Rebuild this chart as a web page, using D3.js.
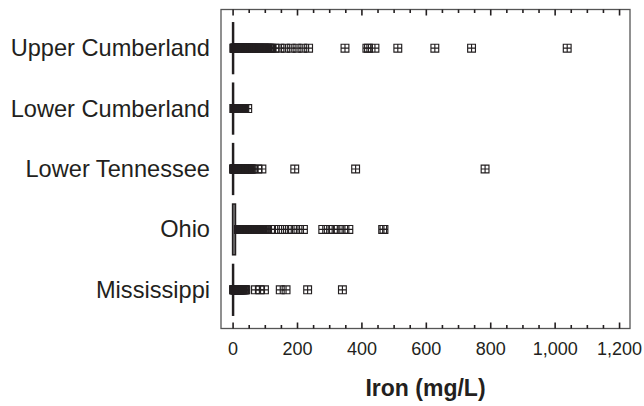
<!DOCTYPE html>
<html>
<head>
<meta charset="utf-8">
<script src="https://cdn.jsdelivr.net/npm/d3@7"></script>
<style>
  html, body { margin: 0; padding: 0; background: #fff; }
  svg { display: block; font-family: "Liberation Sans", Arial, Helvetica, sans-serif; }
</style>
</head>
<body>
<svg id="chart" width="644" height="406"></svg>
<script>
// Iron concentration (mg/L) by basin
const basins = ["Upper Cumberland", "Lower Cumberland", "Lower Tennessee", "Ohio", "Mississippi"];

// Box statistics per basin
const q1Values = [0, 0, 0, 0, 0];
const medianValues = [1, 1, 1, 2, 1];
const q3Values = [3, 3, 3, 9, 3];
const whiskerLow = [0, 0, 0, 0, 0];
const whiskerHigh = [6, 6, 6, 20, 6];

// Outlying observations per basin
const upperCumberlandOutliers = [4, 5, 6, 7, 8, 9, 10, 11, 12, 13, 14, 15, 16, 17, 18, 19, 20, 21, 22, 24, 25, 26, 28, 30, 32, 33, 35, 37, 38, 40, 41, 43, 44, 46, 47, 49, 50, 52, 54, 56, 58, 60, 62, 64, 66, 68, 70, 72, 75, 77, 80, 82, 85, 87, 90, 93, 96, 99, 102, 105, 108, 111, 115, 118, 121, 131, 147, 164, 182, 200, 218, 236, 349, 417, 422, 442, 513, 628, 742, 1039];
const lowerCumberlandOutliers = [4, 5, 6, 7, 8, 9, 10, 11, 12, 13, 14, 15, 16, 17, 18, 19, 20, 21, 22, 23, 25, 27, 28, 30, 31, 33, 34, 36, 38, 47];
const lowerTennesseeOutliers = [3, 4, 5, 6, 7, 8, 9, 10, 11, 12, 13, 14, 15, 16, 17, 18, 19, 20, 21, 23, 24, 26, 27, 29, 30, 32, 33, 35, 37, 39, 41, 43, 45, 47, 50, 52, 55, 57, 60, 64, 78, 91, 193, 382, 784];
const ohioOutliers = [18, 19, 20, 21, 22, 23, 24, 25, 26, 27, 28, 30, 31, 33, 34, 35, 37, 38, 40, 42, 44, 45, 47, 49, 51, 54, 56, 58, 60, 62, 64, 66, 68, 70, 72, 74, 76, 78, 80, 83, 85, 88, 90, 93, 95, 98, 100, 103, 106, 118, 133, 152, 170, 186, 203, 220, 280, 297, 313, 328, 345, 361, 466, 470];
const mississippiOutliers = [3, 4, 5, 6, 7, 8, 9, 10, 11, 12, 13, 14, 15, 16, 17, 18, 19, 20, 21, 23, 24, 26, 27, 29, 31, 33, 35, 37, 39, 41, 71, 85, 99, 148, 166, 233, 341];
const outlierSets = [upperCumberlandOutliers, lowerCumberlandOutliers, lowerTennesseeOutliers, ohioOutliers, mississippiOutliers];

// Axis ticks
const majorTicks = [0, 200, 400, 600, 800, 1000, 1200];
const minorTicks = [50, 100, 150, 250, 300, 350, 450, 500, 550, 650, 700, 750, 850, 900, 950, 1050, 1100, 1150];
const axisTitle = "Iron (mg/L)";

const svg = d3.select("#chart");
const frame = { left: 221, right: 630, top: 9.5, bottom: 328.5 };
const ink = "#231f20";

const x = d3.scaleLinear().domain([-36, 1234]).range([frame.left, frame.right]);
const y = d3.scalePoint().domain(basins).range([frame.top, frame.bottom]).padding(0.64);
const boxHalf = y.step() * 0.42;
const markerHalf = 3.9;
const fmt = d3.format(",");

// Frame
svg.append("rect")
  .attr("x", frame.left).attr("y", frame.top)
  .attr("width", frame.right - frame.left).attr("height", frame.bottom - frame.top)
  .attr("fill", "none").attr("stroke", "#555").attr("stroke-width", 1.3);

// Inward ticks on bottom and top edges
const bottomAxis = d3.axisTop(x).tickValues(majorTicks).tickSize(6).tickFormat("");
const bottomMinor = d3.axisTop(x).tickValues(minorTicks).tickSize(3.5).tickFormat("");
const topAxis = d3.axisBottom(x).tickValues(majorTicks).tickSize(6).tickFormat("");
const topMinor = d3.axisBottom(x).tickValues(minorTicks).tickSize(3.5).tickFormat("");

function styleTicks(g) {
  g.select(".domain").remove();
  g.selectAll(".tick line").attr("stroke", ink).attr("stroke-width", 1.6);
}
svg.append("g").attr("transform", `translate(0,${frame.bottom})`).call(bottomAxis).call(styleTicks);
svg.append("g").attr("transform", `translate(0,${frame.bottom})`).call(bottomMinor).call(styleTicks);
svg.append("g").attr("transform", `translate(0,${frame.top})`).call(topAxis).call(styleTicks);
svg.append("g").attr("transform", `translate(0,${frame.top})`).call(topMinor).call(styleTicks);

// Tick labels
const tickLabels = d3.axisBottom(x).tickValues(majorTicks).tickSize(0).tickPadding(0).tickFormat(fmt);
svg.append("g")
  .attr("transform", `translate(0,${frame.bottom})`)
  .call(tickLabels)
  .call(g => g.select(".domain").remove())
  .call(g => g.selectAll("text")
    .attr("y", 26).attr("dy", 0)
    .attr("font-size", 18).attr("fill", ink)
    .attr("font-family", "'Liberation Sans', Arial, sans-serif"));

// Category labels
const catAxis = d3.axisLeft(y).tickSize(0).tickPadding(11);
svg.append("g")
  .attr("transform", `translate(${frame.left},0)`)
  .call(catAxis)
  .call(g => g.select(".domain").remove())
  .call(g => g.selectAll("text")
    .attr("font-size", 23.6).attr("fill", ink)
    .attr("font-family", "'Liberation Sans', Arial, sans-serif"));

// Axis title
svg.append("text")
  .attr("x", (frame.left + frame.right) / 2)
  .attr("y", 396)
  .attr("text-anchor", "middle")
  .attr("font-size", 23)
  .attr("font-weight", "bold")
  .attr("fill", ink)
  .text(axisTitle);

// Box plots
const rows = basins.map((b, i) => ({
  basin: b, q1: q1Values[i], med: medianValues[i], q3: q3Values[i],
  lo: whiskerLow[i], hi: whiskerHigh[i], outliers: outlierSets[i]
}));

const boxes = svg.append("g").selectAll("g").data(rows).join("g");

boxes.append("line")
  .attr("x1", d => x(d.lo)).attr("x2", d => x(d.hi))
  .attr("y1", d => y(d.basin)).attr("y2", d => y(d.basin))
  .attr("stroke", ink).attr("stroke-width", 1.2);

boxes.append("rect")
  .attr("x", d => x(d.q1))
  .attr("width", d => Math.max(0.5, x(d.q3) - x(d.q1)))
  .attr("y", d => y(d.basin) - boxHalf)
  .attr("height", boxHalf * 2)
  .attr("fill", "#7a7a7a")
  .attr("stroke", ink)
  .attr("stroke-width", 1.5);

// Outlier markers: open squares with a cross
const markerPath = `M${-markerHalf},${-markerHalf}h${2 * markerHalf}v${2 * markerHalf}h${-2 * markerHalf}Z` +
  `M${-markerHalf},0h${2 * markerHalf}M0,${-markerHalf}v${2 * markerHalf}`;

boxes.each(function (d) {
  d3.select(this).append("g").selectAll("path")
    .data(d.outliers)
    .join("path")
    .attr("transform", v => `translate(${x(v)},${y(d.basin)})`)
    .attr("d", markerPath)
    .attr("fill", "none")
    .attr("stroke", ink)
    .attr("stroke-width", 1.15);
});
</script>
</body>
</html>
